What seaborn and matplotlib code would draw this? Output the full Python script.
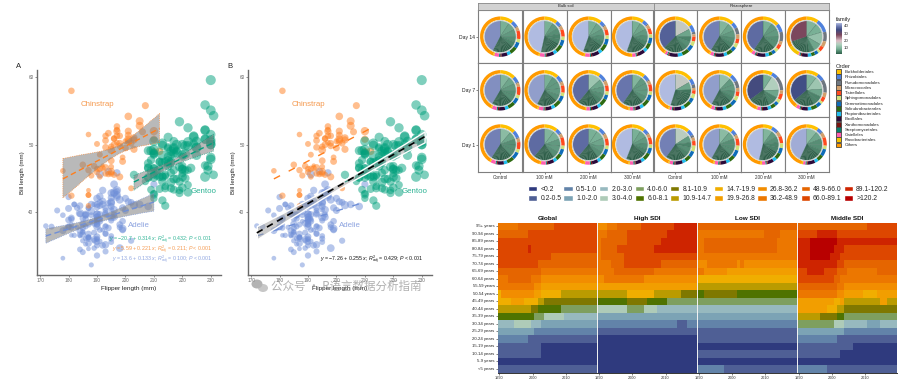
import numpy as np
import pandas as pd
import matplotlib
matplotlib.use("Agg")
import matplotlib.pyplot as plt
import seaborn as sns
from matplotlib.colors import LinearSegmentedColormap, ListedColormap, Normalize
from matplotlib.cm import ScalarMappable
from matplotlib.patches import Patch, Circle, Ellipse

W, H = 900, 383

# ---------- penguin panels ----------
adelie_flipper = [181,186,195,193,190,181,195,193,190,186,180,182,191,198,185,195,197,184,194,174,
    180,189,185,180,187,183,187,172,180,178,178,188,184,195,196,190,180,181,184,182,
    195,186,196,185,190,182,179,190,191,186,188,190,200,187,191,186,193,181,194,185,
    195,185,192,184,192,195,188,190,198,190,190,196,197,190,195,191,184,187,195,189,
    196,187,193,191,194,190,189,189,190,202,205,185,186,187,208,190,196,178,192,192,
    203,183,190,193,184,199,190,181,197,198,191,193,197,191,196,188,199,189,189,187,
    198,176,202,186,199,191,195,191,210,190,197,193,199,187,190,191,200,185,193,193,
    187,188,190,192,185,190,184,195,193,187,201]
adelie_bill = [39.1,39.5,40.3,36.7,39.3,38.9,39.2,34.1,42.0,37.8,37.8,41.1,38.6,34.6,36.6,38.7,42.5,34.4,46.0,37.8,
    37.7,35.9,38.2,38.8,35.3,40.6,40.5,37.9,40.5,39.5,37.2,39.5,40.9,36.4,39.2,38.8,42.2,37.6,39.8,36.5,
    40.8,36.0,44.1,37.0,39.6,41.1,37.5,36.0,42.3,39.6,40.1,35.0,42.0,34.5,41.4,39.0,40.6,36.5,37.6,35.7,
    41.3,37.6,41.1,36.4,41.6,35.5,41.1,35.9,41.8,33.5,39.7,39.6,45.8,35.5,42.8,40.9,37.2,36.2,42.1,34.6,
    42.9,36.7,35.1,37.3,41.3,36.3,36.9,38.3,38.9,35.7,41.1,34.0,39.6,36.2,40.8,38.1,40.3,33.1,43.2,35.0,
    41.0,37.7,37.8,37.9,39.7,38.6,38.2,38.1,43.2,38.1,45.6,39.7,42.2,39.6,42.7,38.6,37.3,35.7,41.1,36.2,
    37.7,40.2,41.4,35.2,40.6,38.8,41.5,39.0,44.1,38.5,43.1,36.8,37.5,38.1,41.1,35.6,40.2,37.0,39.7,40.2,
    40.6,32.1,40.7,37.3,39.0,39.2,36.6,36.0,37.8,36.0,41.5]
adelie_mass = [3750,3800,3250,3450,3650,3625,4675,3475,4250,3300,3700,3200,3800,4400,3700,3450,4500,3325,4200,3400,
    3600,3800,3950,3800,3800,3550,3200,3150,3950,3250,3900,3300,3900,3325,4150,3950,3550,3300,4650,3150,
    3900,3100,4400,3000,4600,3425,2975,3450,4150,3500,4300,3450,4050,2900,3700,3550,3800,2850,3750,3150,
    4400,3600,4050,2850,3950,3350,4100,3050,4450,3600,3900,3550,4150,3700,4250,3700,3900,3550,4000,3200,
    4700,3800,4200,3350,3550,3800,3500,3950,3600,3550,4300,3400,4450,3300,4300,3700,4350,2900,4100,3725,
    4725,3075,4250,2925,3550,3750,3900,3175,4775,3825,4600,3200,4275,3900,4075,2900,3775,3350,3325,3150,
    3500,3450,3875,3050,4000,3275,4300,3050,4000,3325,3500,3500,4475,3425,3900,3175,3975,3400,4250,3400,
    3475,3050,3725,3000,3650,4250,3475,3450,3750,3700,4000]

chinstrap_flipper = [192,196,193,188,197,198,178,197,195,198,193,194,185,201,190,201,197,181,190,195,
    181,191,187,193,195,197,200,200,191,205,187,201,187,203,195,199,195,210,192,205,
    210,187,196,196,196,201,190,212,187,198,199,201,193,203,187,197,191,203,202,194,
    206,189,195,207,202,193,210,198]
chinstrap_bill = [46.5,50.0,51.3,45.4,52.7,45.2,46.1,51.3,46.0,51.3,46.6,51.7,47.0,52.0,45.9,50.5,50.3,58.0,46.4,49.2,
    42.4,48.5,43.2,50.6,46.7,52.0,50.5,49.5,46.4,52.8,40.9,54.2,42.5,51.0,49.7,47.5,47.6,52.0,46.9,53.5,
    49.0,46.2,50.9,45.5,50.9,50.8,50.1,49.0,51.5,49.8,48.1,51.4,45.7,50.7,42.5,52.2,45.2,49.3,50.2,45.6,
    51.9,46.8,45.7,55.8,43.5,49.6,50.8,50.2]
chinstrap_mass = [3500,3900,3650,3525,3725,3950,3250,3750,4150,3700,3800,3775,3700,4050,3575,4050,3300,3700,3450,4400,
    3600,3400,2900,3800,3300,4150,3400,3800,3700,4550,3200,4300,3350,4100,3600,3900,3850,4800,2700,4500,
    3950,3650,3550,3500,3675,4450,3400,4300,3250,3675,3325,3950,3600,4050,3350,3450,3250,4050,3800,3525,
    3950,3650,3650,4000,3400,3775,4100,3775]

gentoo_flipper = [211,230,210,218,215,210,211,219,209,215,214,216,214,213,210,217,210,210,217,210,
    213,210,210,220,222,209,207,230,220,220,213,219,208,230,208,225,210,216,222,217,
    210,225,213,215,210,220,210,225,217,220,208,220,208,224,208,221,214,231,219,230,
    214,229,220,231,216,221,221,217,216,230,209,220,215,223,212,221,212,224,212,228,
    218,222,212,230,218,228,212,224,214,228,216,228,203,225,219,228,215,228,216,215,
    210,228,208,209,216,229,213,219,217,230,217,222,214,230,222,230,213,218,215,220,
    222,213,213]
gentoo_bill = [46.1,50.0,48.7,50.0,47.6,46.5,45.4,46.7,43.3,46.8,40.9,49.0,45.5,48.4,45.8,49.3,42.0,49.2,46.2,48.7,
    50.2,45.1,46.5,46.3,42.9,46.1,44.5,47.8,48.2,50.0,47.3,42.8,45.1,59.6,49.1,48.4,42.6,44.4,44.0,48.7,
    42.7,49.6,45.3,49.6,50.5,43.6,45.5,50.5,44.9,45.2,46.6,48.5,45.1,50.1,46.5,45.0,43.8,45.5,43.2,50.4,
    45.3,46.2,45.7,54.3,45.8,49.8,46.2,49.5,43.5,50.7,47.7,46.4,48.2,46.5,46.4,48.6,47.5,51.1,45.2,45.2,
    49.1,52.5,47.4,50.0,44.9,50.8,43.4,51.3,47.5,52.1,47.5,52.2,45.5,49.5,44.5,50.8,49.4,46.9,48.4,51.1,
    48.5,55.9,47.2,49.1,47.3,46.8,41.7,53.4,43.3,48.1,50.5,49.8,43.5,51.5,46.2,55.1,44.5,48.8,47.2,46.8,
    50.4,45.2,49.9]
gentoo_mass = [4500,5700,4450,5700,5400,4550,4800,5200,4400,5150,4650,5550,4650,5850,4200,5850,4150,6300,4800,5350,
    5700,5000,4400,5050,5000,5100,4100,5650,4600,5550,5250,4700,5050,6050,5150,5400,4950,5250,4350,5350,
    3950,5700,4300,4750,5550,4900,4200,5400,5100,5300,4850,5300,4400,5000,4900,5050,4300,5000,4450,5550,
    4200,5300,4400,5650,4700,5700,4650,5800,4700,5550,4750,5000,5100,5200,4700,5800,4600,6000,4750,5950,
    4625,5450,4725,5350,4750,5600,4600,5300,4875,5550,4950,5400,4750,5650,4850,5200,4925,4875,4625,5250,
    4850,5600,4975,5500,4725,5500,4700,5500,4575,5500,5000,5950,4650,5500,4375,5850,4875,6000,4925,4850,
    5750,5200,5400]

species_names = ["Adelie", "Chinstrap", "Gentoo"]
species_colors = ["#6F8FD8", "#FF7F1E", "#00A07C"]
species_text = ["#8FA5E0", "#F59A50", "#2DB394"]
eq_a = [r"$\it{y}$ = $-$20.7 + 0.314 $\it{x}$; $\it{R}^{2}_{adj}$ = 0.432; $\it{P}$ < 0.001",
        r"$\it{y}$ = 5.59 + 0.221 $\it{x}$; $\it{R}^{2}_{adj}$ = 0.211; $\it{P}$ < 0.001",
        r"$\it{y}$ = 13.6 + 0.133 $\it{x}$; $\it{R}^{2}_{adj}$ = 0.100; $\it{P}$ < 0.001"]
eq_b = r"$\it{y}$ = $-$7.26 + 0.255 $\it{x}$; $\it{R}^{2}_{adj}$ = 0.429; $\it{P}$ < 0.001"

# ---------- pie grid ----------
pie_columns = ["Control", "100 mM", "200 mM", "300 mM", "Control", "100 mM", "200 mM", "300 mM"]
pie_rows = ["Day 14", "Day 7", "Day 1"]
order_names = ["Burkholderiales", "Rhizobiales", "Pseudomonadales", "Micrococcales", "Tistrellales",
               "Sphingomonadales", "Gemmatimonadales", "Solirubrobacterales", "Propionibacteriales", "Bacillales",
               "Xanthomonadales", "Streptomycetales", "Gaiellales", "Flavobacteriales", "Others"]
order_colors = ["#FFC000", "#4F81DC", "#6F7780", "#D2A06C", "#FF4A1E", "#CFE07A", "#0F6CB8", "#2D6A12",
                "#22BDEE", "#2B0A3A", "#7A1410", "#06806E", "#FF5FB0", "#F5C400", "#FF9A00"]
# ring shares, rows top to bottom, columns left to right
ring_values = [
    [11,5,1,3,7,3,5,6,3,5,1,1,4,1,44], [11,4,1,3,6,3,5,6,3,6,1,1,4,1,45], [11,4,1,3,5,3,5,6,3,6,1,1,4,1,46], [10,4,1,3,5,3,5,5,3,6,1,1,3,1,49],
    [15,6,2,2,4,4,5,6,4,7,1,1,2,1,40], [13,5,6,4,4,4,4,5,3,7,1,1,3,1,43], [14,7,8,3,4,3,3,3,3,7,1,1,3,1,39], [10,11,8,5,4,2,3,3,3,5,1,1,1,9,34],
    [13,5,1,3,7,3,5,6,3,5,1,1,4,1,42], [12,5,1,3,6,3,5,6,3,5,1,1,4,1,44], [10,6,1,4,5,3,4,6,3,5,1,1,3,1,47], [11,5,1,3,6,3,5,6,3,4,1,1,3,1,47],
    [15,5,3,2,3,4,4,6,3,6,1,1,2,1,44], [11,6,6,3,4,4,5,5,3,5,1,1,3,1,42], [8,5,12,3,5,3,3,4,3,4,1,1,3,1,44], [10,6,11,4,4,2,4,5,3,5,1,1,3,1,40],
    [13,6,1,3,6,3,6,6,3,5,1,1,4,1,41], [11,4,1,3,7,3,5,5,3,5,1,1,4,1,46], [10,5,1,4,6,3,5,5,3,5,1,1,4,1,46], [11,4,1,3,6,3,5,6,3,5,1,1,3,1,47],
    [12,5,2,3,4,5,5,5,3,6,1,1,3,1,44], [12,4,1,3,6,4,6,5,3,5,1,1,3,1,45], [8,5,1,4,6,4,5,5,3,5,1,1,3,1,48], [10,4,1,4,7,3,6,5,3,6,1,1,2,1,46],
]
family_big = [41,46,45,45, 37,40,38,28,
              41,42,38,39, 46,42,34,35,
              40,38,38,44, 40,42,46,43]
family_first = [[9,8,7,6,5], [9,7,6,5,5], [9,8,7,6,5], [9,8,7,6,5], [17,8,5,6,5], [10,8,7,6,5], [9,7,7,6,6], [10,9,12,8,5],
                [10,8,7,6,6], [9,7,7,7,6], [13,8,7,6,5], [10,7,7,7,6], [17,8,4,3,3], [12,7,7,6,5], [9,15,8,5,5], [10,13,8,5,5],
                [11,8,6,6,6], [10,9,7,7,6], [9,9,8,7,6], [9,8,7,6,5], [16,7,5,6,5], [11,8,6,6,6], [10,7,6,5,5], [11,8,6,6,5]]
family_small = [2.6,2.4,2.2,2.0,1.9,1.8,1.6,1.5,1.4,1.3,1.2,1.1]

# ---------- burden heatmap ----------
age_labels = ["95+ years","90-94 years","85-89 years","80-84 years","75-79 years","70-74 years","65-69 years",
              "60-64 years","55-59 years","50-54 years","45-49 years","40-44 years","35-39 years","30-34 years",
              "25-29 years","20-24 years","15-19 years","10-14 years","5-9 years","<5 years"]
bin_labels = ["<0.2","0.2-0.5","0.5-1.0","1.0-2.0","2.0-3.0","3.0-4.0","4.0-6.0","6.0-8.1","8.1-10.9",
              "10.9-14.7","14.7-19.9","19.9-26.8","26.8-36.2","36.2-48.9","48.9-66.0","66.0-89.1","89.1-120.2",">120.2"]
bin_colors = ["#2F3A7E","#4F5F95","#6283A9","#7CA3B5","#97B9BF","#AECBB8","#7E9F5F","#4F7300","#7F7800",
              "#BA9B00","#F0AE00","#F29E00","#F28D00","#EC7700","#E56500","#DD4700","#CE2400","#B80000"]
# each row: (bin index, number of years), 1990-2019
global_rows = [
    [(13,6),(14,11),(15,13)], [(14,9),(15,21)], [(15,30)], [(15,9),(16,1),(15,20)], [(15,16),(14,14)],
    [(15,12),(14,18)], [(14,13),(13,17)], [(13,3),(14,7),(13,3),(12,17)], [(13,11),(12,2),(11,17)],
    [(10,1),(12,10),(11,2),(10,6),(9,11)], [(10,4),(11,4),(10,4),(9,2),(8,16)], [(9,10),(8,2),(7,7),(6,11)],
    [(7,11),(6,3),(5,6),(4,10)], [(4,5),(5,5),(4,3),(3,17)], [(3,11),(2,19)], [(2,9),(1,21)],
    [(1,13),(0,17)], [(1,13),(0,17)], [(0,30)], [(1,30)]]
high_rows = [
    [(12,3),(13,3),(14,7),(15,10),(16,7)], [(13,3),(14,6),(15,12),(16,9)], [(13,1),(14,8),(15,10),(16,11)],
    [(13,1),(14,5),(15,11),(16,13)], [(13,1),(14,7),(15,22)], [(13,4),(14,4),(15,11),(14,11)],
    [(13,5),(14,12),(13,13)], [(12,2),(13,12),(12,16)], [(11,30)], [(9,9),(10,8),(9,8),(8,5)],
    [(7,9),(8,6),(7,6),(6,9)], [(5,9),(6,5),(5,4),(4,12)], [(3,30)], [(2,24),(1,3),(2,3)], [(1,30)],
    [(0,30)], [(0,30)], [(0,30)], [(0,30)], [(0,30)]]
low_rows = [
    [(14,30)], [(13,20),(14,5),(13,5)], [(13,2),(14,22),(13,6)], [(13,2),(14,22),(13,6)], [(13,30)],
    [(12,3),(13,9),(12,1),(13,1),(12,16)], [(13,2),(12,7),(11,21)], [(10,30)], [(9,30)], [(7,2),(8,10),(7,18)],
    [(6,30)], [(4,30)], [(3,30)], [(2,30)], [(1,30)], [(1,30)], [(0,30)], [(1,30)], [(0,30)], [(2,8),(1,22)]]
middle_rows = [
    [(14,21),(15,9)], [(15,6),(16,6),(15,18)], [(16,4),(17,8),(16,18)], [(16,4),(17,7),(16,3),(15,16)],
    [(16,4),(17,6),(16,3),(15,17)], [(16,12),(15,2),(14,16)], [(15,3),(16,5),(15,4),(14,3),(13,9),(14,6)],
    [(15,11),(14,2),(13,17)], [(14,12),(13,2),(12,16)], [(13,12),(12,2),(11,6),(10,4),(11,6)],
    [(11,11),(10,2),(11,1),(9,11),(11,2),(9,3)], [(11,9),(10,3),(9,2),(8,16)], [(9,7),(8,5),(7,2),(6,16)],
    [(6,11),(5,3),(4,7),(3,4),(4,5)], [(3,14),(2,16)], [(2,12),(1,18)], [(1,17),(0,13)], [(1,13),(0,17)],
    [(0,30)], [(2,9),(1,21)]]
heat_titles = ["Global", "High SDI", "Low SDI", "Middle SDI"]
heat_tables = [global_rows, high_rows, low_rows, middle_rows]
years = list(range(1990, 2020))

# ---------- style ----------
sns.set_theme(style="white")
plt.rcParams["font.family"] = ["Liberation Sans", "DejaVu Sans"]
plt.rcParams["mathtext.fontset"] = "custom"
plt.rcParams["mathtext.rm"] = "Liberation Sans"
plt.rcParams["mathtext.it"] = "Liberation Sans:italic"

fig = plt.figure(figsize=(W / 100, H / 100), dpi=100, facecolor="white")


def px_axes(x0, y0, x1, y1, **kw):
    # axes from pixel box, y counted from the top of the image
    return fig.add_axes([x0 / W, 1 - y1 / H, (x1 - x0) / W, (y1 - y0) / H], **kw)


penguins = pd.DataFrame({
    "species": ["Adelie"] * len(adelie_flipper) + ["Chinstrap"] * len(chinstrap_flipper) + ["Gentoo"] * len(gentoo_flipper),
    "flipper": adelie_flipper + chinstrap_flipper + gentoo_flipper,
    "bill": adelie_bill + chinstrap_bill + gentoo_bill,
    "mass": adelie_mass + chinstrap_mass + gentoo_mass,
})


def scatter_panel(box, letter, letter_x):
    ax = px_axes(*box)
    sns.scatterplot(data=penguins, x="flipper", y="bill", hue="species", hue_order=species_names,
                    palette=species_colors, size="mass", sizes=(9, 56), size_norm=(2700, 6300),
                    alpha=0.5, linewidth=0, legend=False, ax=ax, zorder=3)
    ax.set_xlim(168.9, 233.6)
    ax.set_ylim(30.6, 61.1)
    ax.set_xticks(range(170, 231, 10))
    ax.set_yticks([40, 50, 60])
    ax.tick_params(axis="both", labelsize=3.4, colors="#666666", length=1.5, width=0.5, pad=1, bottom=True, left=True)
    sns.despine(ax=ax)
    for s in ["left", "bottom"]:
        ax.spines[s].set_color("#6a6a6a")
        ax.spines[s].set_linewidth(1.0)
    ax.text(190, 56, "Chinstrap", color=species_text[1], fontsize=5.7, ha="center", va="center")
    ax.text(227.6, 43, "Gentoo", color=species_text[2], fontsize=5.7, ha="center", va="center")
    ax.text(204.8, 37.9, "Adelie", color=species_text[0], fontsize=5.7, ha="center", va="center")
    fig.text(letter_x / W, 1 - 67 / H, letter, fontsize=5.5, color="#222222", ha="center", va="center")
    return ax


# panel A: one fit per species with grey band
ax_a = scatter_panel((37, 70, 221, 275), "A", 18.7)
for name, color in zip(species_names, species_colors):
    sub = penguins[penguins["species"] == name]
    sns.regplot(data=sub, x="flipper", y="bill", scatter=False, color=color, seed=1, ax=ax_a,
                line_kws={"linestyle": (0, (4, 2.5)), "linewidth": 1.0, "zorder": 5})
    band = ax_a.collections[-1]
    band.set_alpha(None)
    band.set_facecolor((0.5, 0.5, 0.5, 0.55))
    band.set_edgecolor(color)
    band.set_linestyle(":")
    band.set_linewidth(0.5)
    band.set_zorder(4)
for txt, col, y in zip(eq_a, [species_text[2], species_text[1], species_text[0]], [35.8, 34.3, 32.8]):
    ax_a.text(230.5, y, txt, color=col, fontsize=3.8, ha="right", va="center", zorder=6)
ax_a.set_xlabel("Flipper length (mm)", fontsize=4.6, color="#222222", labelpad=2)
ax_a.set_ylabel("Bill length (mm)", fontsize=4.4, color="#222222", labelpad=2.5)

# panel B: species fits plus overall fit
ax_b = scatter_panel((248, 70, 432, 275), "B", 230)
for name, color in zip(species_names, species_colors):
    sub = penguins[penguins["species"] == name]
    sns.regplot(data=sub, x="flipper", y="bill", scatter=False, ci=None, color=color, ax=ax_b,
                line_kws={"linestyle": (0, (5, 7)), "linewidth": 1.0, "zorder": 2})
sns.regplot(data=penguins, x="flipper", y="bill", scatter=False, color="black", seed=1, ax=ax_b,
            line_kws={"linestyle": (0, (4, 3)), "linewidth": 1.2, "zorder": 6})
band_b = ax_b.collections[-1]
band_b.set_alpha(None)
band_b.set_facecolor((0.6, 0.6, 0.6, 0.5))
band_b.set_zorder(4)
ax_b.text(230.5, 32.8, eq_b, color="#111111", fontsize=3.8, ha="right", va="center", zorder=6)
ax_b.set_xlabel("Flipper length (mm)", fontsize=4.6, color="#222222", labelpad=2)
ax_b.set_ylabel("Bill length (mm)", fontsize=4.4, color="#222222", labelpad=2.5)

# watermark over panel B
ov = px_axes(0, 0, W, H, zorder=20)
ov.set_xlim(0, W)
ov.set_ylim(H, 0)
ov.axis("off")
ov.patch.set_alpha(0)
ov.add_patch(Ellipse((257, 284), 11, 9, color="#9a9a9a", alpha=0.75, lw=0))
ov.add_patch(Ellipse((263, 288), 10, 8, color="#b5b5b5", alpha=0.75, lw=0))
ov.text(271, 286.5, "公众号 · R语言数据分析指南", fontsize=8.3, color="#8f8f8f", alpha=0.7, va="center", ha="left",
        family=["Noto Sans CJK SC", "DejaVu Sans"])

# ---------- pie grid ----------
fam_colors = [(0.0, "#2F5E49"), (3 / 42.2, "#4A8168"), (7 / 42.2, "#78AF95"), (13 / 42.2, "#AFD0BD"), (18 / 42.2, "#DDBEC6"),
              (26 / 42.2, "#7C475C"), (33 / 42.2, "#3E4B82"), (38 / 42.2, "#6F7DB3"), (1.0, "#B0BBE1")]
fam_cmap = LinearSegmentedColormap.from_list("family", fam_colors)
fam_norm = Normalize(vmin=1.8, vmax=44)
col_edges = [478, 522.5, 566.5, 610.7, 653.5, 697.3, 741.3, 784.7, 828.5]
row_edges = [10, 63.3, 117.3, 171.7]

for r in range(3):
    for c in range(8):
        k = r * 8 + c
        ax = px_axes(col_edges[c], row_edges[r], col_edges[c + 1], row_edges[r + 1])
        fam = family_first[k] + family_small + [family_big[k]]
        ax.pie(fam, colors=[fam_cmap(fam_norm(v)) for v in fam], radius=16, startangle=90, counterclock=False,
               wedgeprops={"edgecolor": "#3A6A55", "linewidth": 0.2})
        ax.pie(ring_values[k], colors=order_colors, radius=20.2, startangle=90, counterclock=False,
               wedgeprops={"width": 3.4, "linewidth": 0})
        ax.add_patch(Circle((0, 0), 16, fill=False, ec="#dddddd", lw=0.6))
        ax.set_frame_on(True)
        ax.set_xlim(-(col_edges[c + 1] - col_edges[c]) / 2, (col_edges[c + 1] - col_edges[c]) / 2)
        ax.set_ylim(-(row_edges[r + 1] - row_edges[r]) / 2, (row_edges[r + 1] - row_edges[r]) / 2)
        ax.set_aspect("auto")
        for s in ax.spines.values():
            s.set_color("#7f7f7f")
            s.set_linewidth(0.8)
        ax.set_xticks([0] if r == 2 else [])
        ax.set_yticks([0] if c == 0 else [])
        if r == 2:
            ax.set_xticklabels([pie_columns[c]], fontsize=3.3, color="#333333")
        if c == 0:
            ax.set_yticklabels([pie_rows[r]], fontsize=3.6, color="#222222")
        ax.tick_params(length=1.2, width=0.4, pad=1, bottom=r == 2, left=c == 0)

for (x0, x1, label) in [(478, 653.5, "Bulk soil"), (653.5, 828.5, "Rhizosphere")]:
    strip = px_axes(x0, 2.5, x1, 10, facecolor="#d2d2d2")
    strip.set_xticks([])
    strip.set_yticks([])
    for s in strip.spines.values():
        s.set_color("#8a8a8a")
        s.set_linewidth(0.6)
    strip.text(0.5, 0.5, label, transform=strip.transAxes, fontsize=3.1, color="#222222", ha="center", va="center")

# family colour bar
cax = px_axes(835.7, 23, 841.7, 54)
cb = fig.colorbar(ScalarMappable(norm=fam_norm, cmap=fam_cmap), cax=cax)
cb.set_ticks([10, 20, 30, 40])
cb.ax.tick_params(labelsize=3.2, length=1, width=0.3, color="white", pad=1.5, right=True, direction="in")
cb.outline.set_visible(False)
fig.text(836 / W, 1 - 19 / H, "family", fontsize=4.2, color="#222222", va="center")

# order legend
order_handles = [Patch(facecolor=c, edgecolor="#444444", linewidth=0.6, label=n) for c, n in zip(order_colors, order_names)]
leg = fig.legend(handles=order_handles, title="Order", loc="upper left", bbox_to_anchor=(835.5 / W, 1 - 64 / H),
                 frameon=False, fontsize=3.2, title_fontsize=4.2, borderpad=0, borderaxespad=0, handlelength=1.34,
                 handleheight=1.34, labelspacing=0.06, handletextpad=0.7, alignment="left")

# ---------- heatmap ----------
heat_cmap = ListedColormap(bin_colors)
heat_edges = [497.7, 597.4, 697.2, 797, 896.7]
for i, (title, table) in enumerate(zip(heat_titles, heat_tables)):
    ax = px_axes(heat_edges[i], 222.7, heat_edges[i + 1], 372.7)
    mat = pd.DataFrame([np.repeat([b for b, n in row], [n for b, n in row]) for row in table],
                       index=age_labels, columns=years)
    sns.heatmap(mat, cmap=heat_cmap, vmin=-0.5, vmax=17.5, cbar=False, ax=ax, xticklabels=False,
                yticklabels=age_labels if i == 0 else False)
    ax.set_xlabel("")
    ax.set_ylabel("")
    ax.set_xticks([0.5, 10.5, 20.5])
    ax.set_xticklabels(["1990", "2000", "2010"], rotation=0, fontsize=2.8, color="#333333")
    ax.tick_params(axis="x", length=1.2, width=0.4, pad=1, bottom=True)
    if i == 0:
        ax.tick_params(axis="y", labelsize=3.1, labelrotation=0, length=1.2, width=0.4, pad=1, left=True, labelcolor="#222222")
    ax.set_title(title, fontsize=4.6, fontweight="bold", color="#111111", pad=2)
    ax.spines["bottom"].set_visible(True)
    ax.spines["bottom"].set_color("#333333")
    ax.spines["bottom"].set_linewidth(0.7)
    if i > 0:
        ax.spines["left"].set_visible(True)
        ax.spines["left"].set_color("#f4f4f4")
        ax.spines["left"].set_linewidth(0.7)

# two-row bin legend above the heatmap
bin_handles = [Patch(facecolor=c, label=n) for c, n in zip(bin_colors, bin_labels)]
fig.legend(handles=bin_handles, loc="upper left", bbox_to_anchor=(528 / W, 1 - 186 / H), ncols=9, frameon=False,
           fontsize=4.9, borderpad=0, borderaxespad=0, handlelength=1.33, handleheight=0.85, handletextpad=0.5,
           columnspacing=0.3, labelspacing=0.32)

fig.savefig("out.png", dpi=100)
